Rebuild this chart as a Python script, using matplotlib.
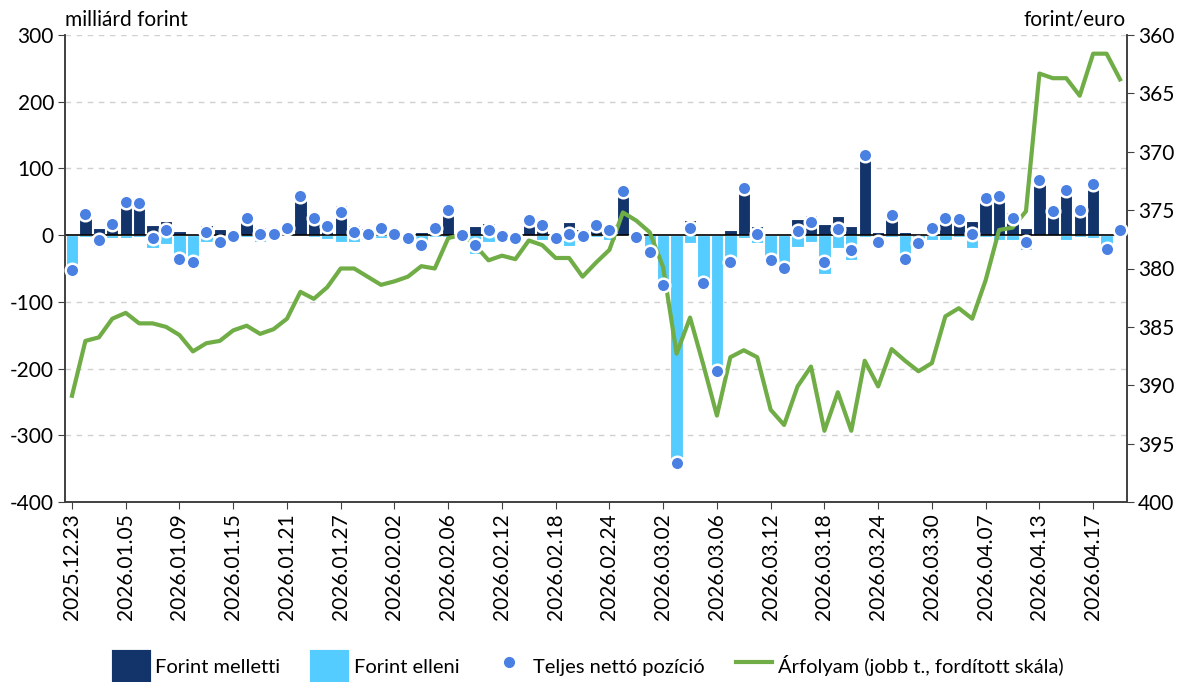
import matplotlib
matplotlib.use("Agg")
import matplotlib.pyplot as plt
from matplotlib.lines import Line2D
from matplotlib.patches import Patch
import numpy as np

plt.rcParams['font.family'] = ['Lato', 'DejaVu Sans']
plt.rcParams['axes.unicode_minus'] = False

dates = ["2025.12.23", "2025.12.29", "2025.12.30", "2025.12.31", "2026.01.05",
         "2026.01.06", "2026.01.07", "2026.01.08", "2026.01.09", "2026.01.12",
         "2026.01.13", "2026.01.14", "2026.01.15", "2026.01.16", "2026.01.19",
         "2026.01.20", "2026.01.21", "2026.01.22", "2026.01.23", "2026.01.26",
         "2026.01.27", "2026.01.28", "2026.01.29", "2026.01.30", "2026.02.02",
         "2026.02.03", "2026.02.04", "2026.02.05", "2026.02.06", "2026.02.09",
         "2026.02.10", "2026.02.11", "2026.02.12", "2026.02.13", "2026.02.16",
         "2026.02.17", "2026.02.18", "2026.02.19", "2026.02.20", "2026.02.23",
         "2026.02.24", "2026.02.25", "2026.02.26", "2026.02.27", "2026.03.02",
         "2026.03.03", "2026.03.04", "2026.03.05", "2026.03.06", "2026.03.09",
         "2026.03.10", "2026.03.11", "2026.03.12", "2026.03.13", "2026.03.16",
         "2026.03.17", "2026.03.18", "2026.03.19", "2026.03.20", "2026.03.23",
         "2026.03.24", "2026.03.25", "2026.03.26", "2026.03.27", "2026.03.30",
         "2026.03.31", "2026.04.01", "2026.04.02", "2026.04.07", "2026.04.08",
         "2026.04.09", "2026.04.10", "2026.04.13", "2026.04.14", "2026.04.15",
         "2026.04.16", "2026.04.17", "2026.04.20", "2026.04.21"]

forint_melletti = [0, 35, 10, 22, 55, 51, 15, 21, 6, 0,
                   15, 9, 2, 28, 12, 2, 13, 60, 28, 20,
                   45, 15, 10, 15, 7, 0, 5, 14, 40, 0,
                   13, 18, 2, 0, 24, 22, 2, 19, 9, 18,
                   16, 68, 0, 2, 0, 2, 23, 0, 2, 7,
                   76, 13, 0, 0, 24, 30, 17, 29, 14, 122,
                   4, 33, 4, 2, 18, 33, 27, 21, 58, 67,
                   34, 10, 84, 37, 76, 40, 82, 0, 8]

forint_elleni = [-52, -3, -18, -5, -5, -3, -19, -14, -42, -41,
                 -11, -19, -4, -3, -11, -1, -2, -2, -3, -6,
                 -11, -10, -8, -5, -5, -4, -20, -3, -3, 0,
                 -28, -11, -3, -5, -2, -7, -7, -17, -11, -3,
                 -8, -2, -3, -27, -75, -345, -12, -71, -206, -47,
                 -5, -12, -38, -49, -18, -10, -58, -20, -37, -3,
                 -15, -3, -41, -15, -8, -7, -3, -20, -3, -8,
                 -8, -22, -2, -2, -8, -3, -5, -21, 0]

teljes_netto = [-52, 32, -8, 17, 50, 48, -4, 7, -36, -41,
                4, -10, -2, 25, 1, 1, 11, 59, 26, 14,
                34, 5, 1, 10, 2, -4, -15, 11, 37, 0,
                -15, 7, -1, -5, 22, 15, -5, 2, -2, 15,
                8, 66, -3, -25, -75, -342, 11, -71, -204, -40,
                71, 1, -38, -49, 6, 20, -41, 9, -22, 120,
                -11, 30, -36, -12, 10, 26, 24, 1, 55, 59,
                26, -11, 82, 36, 68, 37, 77, -21, 8]

arfolyam = [390.9, 386.2, 385.9, 384.3, 383.8, 384.7, 384.7, 385.0, 385.7, 387.1,
            386.4, 386.2, 385.3, 384.9, 385.6, 385.2, 384.3, 382.0, 382.6, 381.6,
            380.0, 380.0, 380.7, 381.4, 381.1, 380.7, 379.8, 380.0, 377.4, 377.1,
            378.0, 379.3, 378.9, 379.2, 377.6, 378.0, 379.1, 379.1, 380.7, 379.5,
            378.4, 375.2, 375.9, 376.9, 379.9, 387.3, 384.2, 388.3, 392.6, 387.6,
            387.0, 387.6, 392.1, 393.4, 390.1, 388.4, 393.9, 390.6, 393.9, 387.9,
            390.1, 386.9, 387.9, 388.8, 388.1, 384.1, 383.4, 384.3, 381.0, 376.7,
            376.5, 375.1, 363.3, 363.7, 363.7, 365.2, 361.6, 361.6, 363.8]

c_dark = "#13336b"
c_light = "#55ccff"
c_dot = "#4a80e2"
c_green = "#70ad47"
FS = 15

fig = plt.figure(figsize=(11.77, 6.82), dpi=100)
ax = fig.add_axes([65/1177, 1-502/682, (1127-65)/1177, (502-35)/682])
ax2 = ax.twinx()

x = np.arange(len(dates))
ax.bar(x, forint_elleni, width=0.92, color=c_light, edgecolor="white", linewidth=0.8, zorder=2)
ax.bar(x, forint_melletti, width=0.92, color=c_dark, edgecolor="white", linewidth=0.8, zorder=3)
ax.axhline(0, color="black", linewidth=1.2, zorder=4)

ax.set_ylim(-400, 300)
ax.set_yticks(np.arange(-400, 301, 100))
ax.set_xlim(-0.52, len(dates) - 1 + 0.52)
ax.yaxis.grid(True, linestyle=(0, (4, 4)), color="#d0d0d0", linewidth=1.0, zorder=0)
ax.set_axisbelow(True)
ax.set_xticks(x[::4])
ax.set_xticklabels(dates[::4], rotation=90, fontsize=FS)
ax.tick_params(axis="y", labelsize=FS, direction="out", length=5, color="#404040", pad=3)
ax.tick_params(axis="x", direction="out", length=5, color="#404040", pad=3)

ax2.plot(x, arfolyam, color=c_green, linewidth=3, zorder=5)
ax2.set_ylim(400, 360)
ax2.set_yticks(np.arange(360, 401, 5))
ax2.tick_params(axis="y", labelsize=FS, direction="out", length=5, color="#404040", pad=3)
ax2.scatter(x, teljes_netto, s=95, color=c_dot, edgecolor="white", linewidth=1.8,
            zorder=6, transform=ax.transData, clip_on=False)

for a in (ax, ax2):
    a.spines["top"].set_visible(False)
    for s in ("left", "right", "bottom"):
        a.spines[s].set_color("#404040")
        a.spines[s].set_linewidth(1.2)

fig.text(65/1177, 1-20/682, "milliárd forint", fontsize=FS, ha="left", va="center")
fig.text(1126/1177, 1-20/682, "forint/euro", fontsize=FS, ha="right", va="center")

handles = [Patch(facecolor=c_dark, edgecolor=c_dark, linewidth=3, joinstyle="round"),
           Patch(facecolor=c_light, edgecolor=c_light, linewidth=3, joinstyle="round"),
           Line2D([], [], marker="o", linestyle="none", color=c_dot, markersize=7),
           Line2D([], [], color=c_green, linewidth=3)]
labels = ["Forint melletti", "Forint elleni", "Teljes nettó pozíció",
          "Árfolyam (jobb t., fordított skála)"]
fig.legend(handles, labels, loc="center", bbox_to_anchor=(0.5, 1-666/682), ncol=4,
           frameon=False, fontsize=14.5, handlelength=1.75, handleheight=1.75,
           columnspacing=1.6, handletextpad=0.3)

fig.savefig("out.png", dpi=100)
